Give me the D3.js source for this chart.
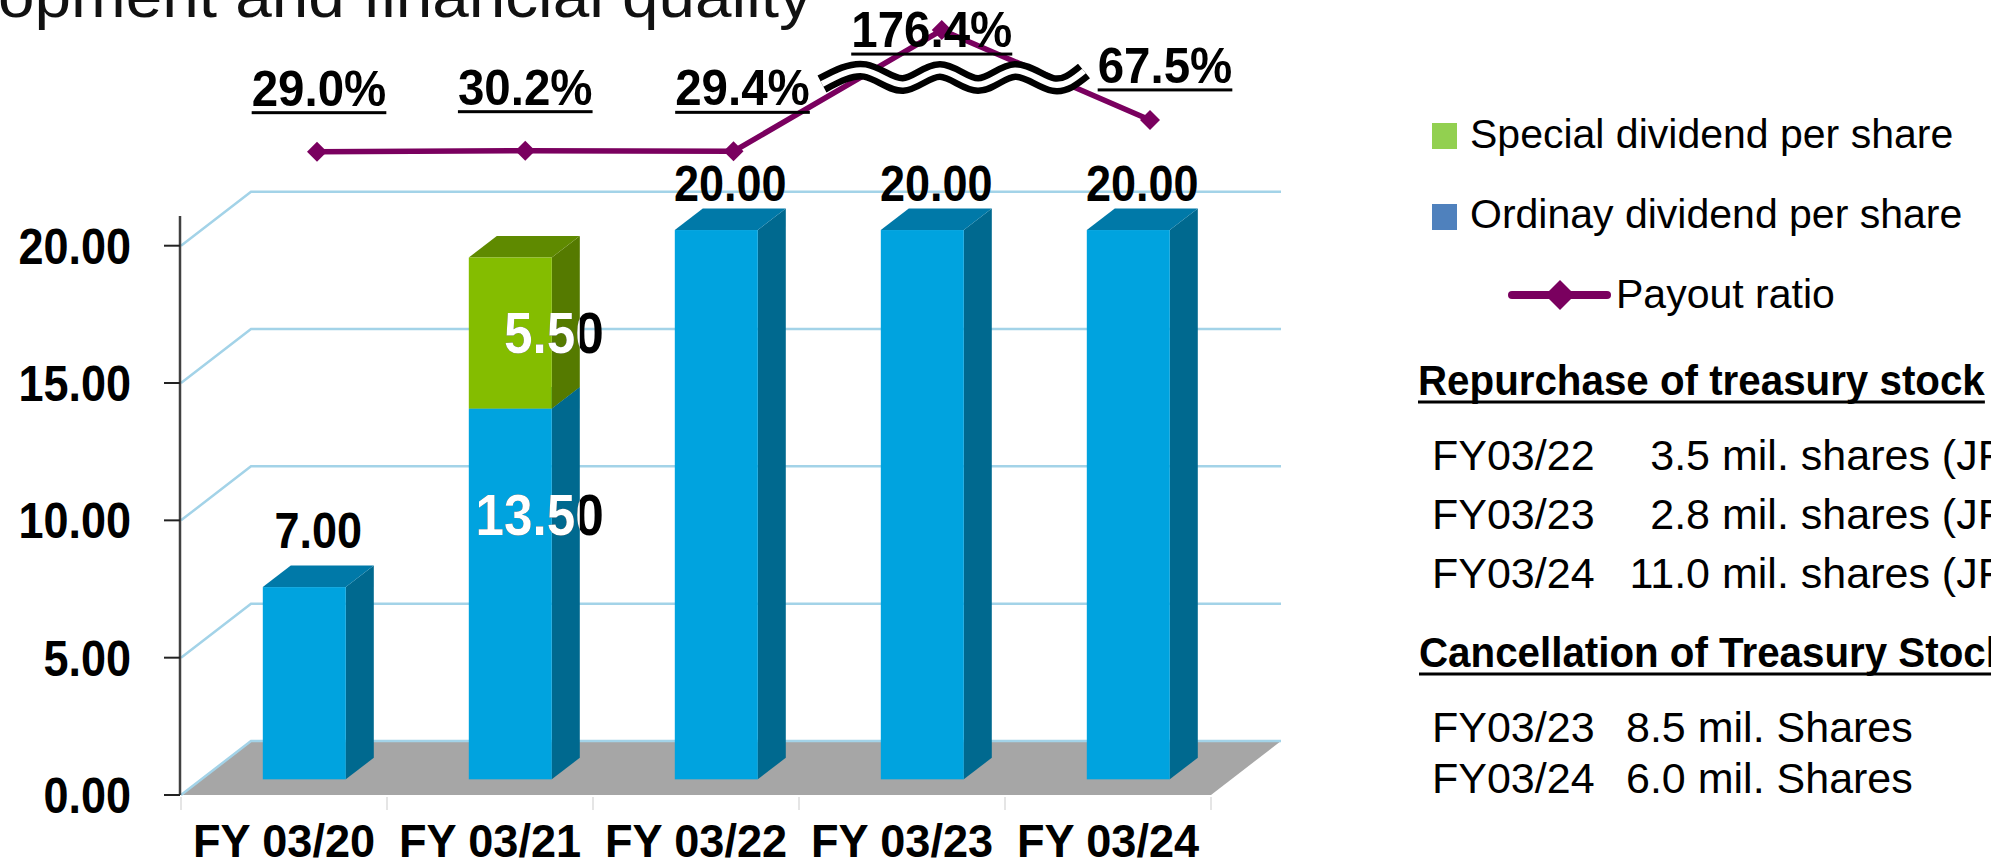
<!DOCTYPE html>
<html>
<head>
<meta charset="utf-8">
<script src="https://cdn.jsdelivr.net/npm/d3@7"></script>
<style>
  html, body { margin: 0; padding: 0; background: #fff; overflow: hidden; }
  svg { display: block; font-family: "Liberation Sans", Arial, sans-serif; }
</style>
</head>
<body>
<svg id="chart" width="1991" height="865"></svg>
<script>
// ---- data ----
const categories = ["FY 03/20", "FY 03/21", "FY 03/22", "FY 03/23", "FY 03/24"];
const ordinaryDividend = [7.00, 13.50, 20.00, 20.00, 20.00];
const specialDividend = [0, 5.50, 0, 0, 0];
const payoutRatio = [29.0, 30.2, 29.4, 176.4, 67.5];
const yTicks = [0, 5, 10, 15, 20];
const legendItems = ["Special dividend per share", "Ordinay dividend per share", "Payout ratio"];
const repurchaseYears = ["FY03/22", "FY03/23", "FY03/24"];
const repurchaseShares = [3.5, 2.8, 11.0];
const cancelYears = ["FY03/23", "FY03/24"];
const cancelShares = [8.5, 6.0];

// label nudges for the payout ratio labels (dx, dy from the marker)
const pctNudge = [[2, -46], [0, -46], [9, -46], [-10, 17], [15, -37]];

const svg = d3.select("#chart");
const defs = svg.append("defs");

// 3D-ish geometry
const depth = {dx: 70, dy: -54};
const barFront = 0.29, barDepth = 0.4, barW = 83;

const x = d3.scaleBand().domain(categories).range([181, 1211]);
const y = d3.scaleLinear().domain([0, 20]).range([795, 245.7]);
const xLine = d3.scalePoint().domain(categories).range([317, 1150]);
const yPct = d3.scaleLinear().domain([0, 200]).range([175.6, 10.6]);

const col = {
  blue: "#00a3df", blueTop: "#0079a8", blueSide: "#00698f",
  green: "#84bd00", greenTop: "#5f8a00", greenSide: "#557a00",
  grid: "#a3d3e8", floor: "#a6a6a6", line: "#7a005f"
};

// text helper: condensed look through a horizontal scale
function label(parent, px, py, str, o) {
  const g = parent.append("g")
    .attr("transform", `translate(${px},${py}) scale(${o.sx || 1},1)`);
  const t = g.append("text")
    .attr("text-anchor", o.anchor || "start")
    .attr("font-size", o.size)
    .attr("font-weight", o.weight || "normal")
    .attr("fill", o.fill || "#000")
    .text(str);
  if (o.underline) {
    const b = t.node().getBBox();
    g.append("rect").attr("x", b.x).attr("y", 5.5)
      .attr("width", b.width).attr("height", 3).attr("fill", o.fill || "#000");
  }
  return g;
}

// ---- title (cut off at the top of the picture) ----
const title = svg.append("g");
const tt = title.append("text").attr("font-size", 62).attr("fill", "#111")
  .text("development and financial quality");
const fullLen = tt.node().getComputedTextLength();
const preLen = tt.node().getSubStringLength(0, 5);
const s = 814 / (fullLen - preLen);
title.attr("transform", `translate(${812 - s * fullLen},17) scale(${s},1)`);

// ---- floor ----
const x0 = x.range()[0], x1 = x.range()[1];
svg.append("polygon")
  .attr("points", [[x0, y(0)], [x0 + depth.dx, y(0) + depth.dy],
                   [x1 + depth.dx, y(0) + depth.dy], [x1, y(0)]].join(" "))
  .attr("fill", col.floor);

// ---- gridlines on side wall + back wall ----
svg.append("g").selectAll("path").data(yTicks).join("path")
  .attr("d", v => `M${x0},${y(v)} L${x0 + depth.dx},${y(v) + depth.dy} L${x1 + depth.dx},${y(v) + depth.dy}`)
  .attr("fill", "none").attr("stroke", col.grid).attr("stroke-width", 2.5);

// category separators under the floor
svg.append("g").selectAll("line").data(d3.range(categories.length + 1)).join("line")
  .attr("x1", i => x0 + i * x.step()).attr("x2", i => x0 + i * x.step())
  .attr("y1", y(0) + 2).attr("y2", y(0) + 15)
  .attr("stroke", "#dcdcdc").attr("stroke-width", 1.5);

// ---- value axis ----
const axisX = 180;
svg.append("line").attr("x1", axisX).attr("x2", axisX).attr("y1", 216).attr("y2", y(0))
  .attr("stroke", "#404040").attr("stroke-width", 2.5);
svg.append("g").selectAll("line").data(yTicks).join("line")
  .attr("x1", axisX - 16).attr("x2", axisX).attr("y1", d => y(d)).attr("y2", d => y(d))
  .attr("stroke", "#222").attr("stroke-width", 2);
yTicks.forEach(v => {
  label(svg, 131, y(v) + 18, d3.format(".2f")(v), {size: 50, weight: "bold", anchor: "end", sx: 0.9});
});

// category labels
categories.forEach(c => {
  label(svg, x(c) + x.bandwidth() / 2, 857, c, {size: 47, weight: "bold", anchor: "middle", sx: 0.96});
});

// ---- bars ----
const bdx = barDepth * depth.dx, bdy = barDepth * depth.dy;
const barsG = svg.append("g");
const labelsG = svg.append("g");

categories.forEach((c, i) => {
  const bx = x(c) + x.bandwidth() / 2 + barFront * depth.dx - barW / 2;
  const py = v => y(v) + barFront * depth.dy;
  const segs = [
    {lo: 0, hi: ordinaryDividend[i], f: col.blue, t: col.blueTop, s: col.blueSide},
    {lo: ordinaryDividend[i], hi: ordinaryDividend[i] + specialDividend[i], f: col.green, t: col.greenTop, s: col.greenSide}
  ].filter(d => d.hi > d.lo);

  segs.forEach(d => {
    const yt = py(d.hi), yb = py(d.lo);
    barsG.append("polygon")
      .attr("points", [[bx + barW, yt], [bx + barW + bdx, yt + bdy], [bx + barW + bdx, yb + bdy], [bx + barW, yb]].join(" "))
      .attr("fill", d.s);
    barsG.append("polygon")
      .attr("points", [[bx, yt], [bx + bdx, yt + bdy], [bx + barW + bdx, yt + bdy], [bx + barW, yt]].join(" "))
      .attr("fill", d.t);
    barsG.append("rect").attr("x", bx).attr("y", yt).attr("width", barW).attr("height", yb - yt)
      .attr("fill", d.f);
  });

  const total = ordinaryDividend[i] + specialDividend[i];
  if (specialDividend[i] > 0) {
    // labels sitting inside the stacked bar: white over the bar, black outside
    const yt = py(total), yb = py(0);
    defs.append("clipPath").attr("id", "bar" + i).append("polygon")
      .attr("points", [[bx, yb], [bx, yt], [bx + bdx, yt + bdy], [bx + barW + bdx, yt + bdy],
                       [bx + barW + bdx, yb + bdy], [bx + barW, yb]].join(" "));
    const inner = [
      {txt: d3.format(".2f")(specialDividend[i]), cy: (py(total) + py(ordinaryDividend[i])) / 2},
      {txt: d3.format(".2f")(ordinaryDividend[i]), cy: py(ordinaryDividend[i]) + 106}
    ];
    inner.forEach(d => {
      label(labelsG, bx + barW + 52, d.cy + 20, d.txt, {size: 57, weight: "bold", anchor: "end", sx: 0.9});
      const cg = labelsG.append("g").attr("clip-path", `url(#bar${i})`);
      label(cg, bx + barW + 52, d.cy + 20, d.txt, {size: 57, weight: "bold", anchor: "end", sx: 0.9, fill: "#fff"});
    });
  } else {
    const ly = Math.max(py(total) + bdy - 17, 201);
    label(labelsG, bx + barW / 2 + bdx / 2, ly, d3.format(".2f")(total),
      {size: 50, weight: "bold", anchor: "middle", sx: 0.9});
  }
});

// ---- payout ratio line ----
const pts = categories.map((c, i) => [xLine(c), yPct(payoutRatio[i])]);
svg.append("path").attr("d", d3.line()(pts))
  .attr("fill", "none").attr("stroke", col.line).attr("stroke-width", 5.5)
  .attr("stroke-linejoin", "round");
svg.append("g").selectAll("path").data(pts).join("path")
  .attr("transform", d => `translate(${d[0]},${d[1]})`)
  .attr("d", "M0,-10L10,0L0,10L-10,0Z").attr("fill", col.line);

// axis break symbol (double wavy line)
const wave = [[822, 84], [865, 70.5], [903, 84.5], [940, 70.5], [978, 84.5], [1015, 70.5], [1053, 84.5], [1084, 71]];
const wavePath = d3.line().curve(d3.curveNatural)(wave);
svg.append("path").attr("d", wavePath).attr("fill", "none").attr("stroke", "#000").attr("stroke-width", 19);
svg.append("path").attr("d", wavePath).attr("fill", "none").attr("stroke", "#fff").attr("stroke-width", 6);

// payout ratio labels
pts.forEach((p, i) => {
  label(svg, p[0] + pctNudge[i][0], p[1] + pctNudge[i][1], d3.format(".1f")(payoutRatio[i]) + "%",
    {size: 50, weight: "bold", anchor: "middle", sx: 0.95, underline: true});
});

// ---- legend ----
const lg = svg.append("g");
lg.append("rect").attr("x", 1432).attr("y", 123).attr("width", 25).attr("height", 26).attr("fill", "#92d050");
lg.append("rect").attr("x", 1432).attr("y", 204).attr("width", 25).attr("height", 26).attr("fill", "#4f81bd");
label(lg, 1470, 148, legendItems[0], {size: 41});
label(lg, 1470, 228, legendItems[1], {size: 41});
lg.append("line").attr("x1", 1512).attr("x2", 1607).attr("y1", 295).attr("y2", 295)
  .attr("stroke", col.line).attr("stroke-width", 8).attr("stroke-linecap", "round");
lg.append("path").attr("transform", "translate(1560,295)")
  .attr("d", "M0,-15L15,0L0,15L-15,0Z").attr("fill", col.line);
label(lg, 1616, 308, legendItems[2], {size: 41});

// ---- treasury stock notes ----
const notes = svg.append("g");
label(notes, 1418, 395, "Repurchase of treasury stock", {size: 42, weight: "bold", sx: 0.96, underline: true});
const numEnd = 1710;
repurchaseYears.forEach((fy, i) => {
  const by = 470 + i * 59;
  label(notes, 1432, by, fy, {size: 43});
  label(notes, numEnd, by, d3.format(".1f")(repurchaseShares[i]), {size: 43, anchor: "end"});
  label(notes, numEnd + 12, by, "mil. shares (JPY", {size: 43});
});
label(notes, 1419, 667, "Cancellation of Treasury Stock", {size: 42, weight: "bold", sx: 0.96, underline: true});
cancelYears.forEach((fy, i) => {
  const by = 742 + i * 51;
  label(notes, 1432, by, fy, {size: 43});
  label(notes, 1626, by, d3.format(".1f")(cancelShares[i]) + " mil. Shares", {size: 43});
});
</script>
</body>
</html>
